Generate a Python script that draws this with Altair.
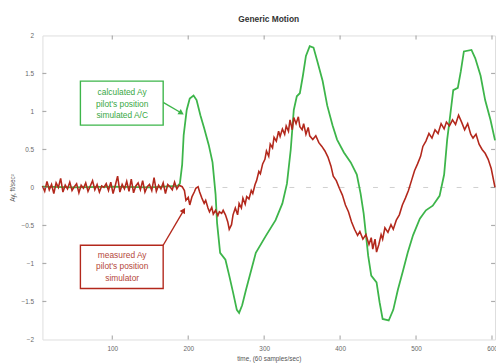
import altair as alt
import pandas as pd

# ---------------- data ----------------
# calculated Ay, pilot's position, simulated A/C (green)
calc_t = [8, 50, 100, 150, 186, 189, 192, 194, 198, 202, 207, 211, 216, 221, 227, 232,
          236, 238, 242, 249, 254, 259, 264, 267, 271, 276, 289, 302, 315, 324, 330,
          335, 339, 343, 347, 351, 355, 360, 365, 370, 377, 383, 390, 396, 405, 414,
          422, 427, 431, 437, 441, 448, 452, 456, 464, 470, 476, 483, 489, 496, 505,
          513, 522, 531, 537, 541, 545, 549, 555, 559, 563, 573, 578, 585, 591, 598, 604]
calc_ay = [0.01, 0.0, 0.01, 0.0, 0.02, 0.05, 0.3, 0.69, 1.02, 1.17, 1.21, 1.15, 0.95,
           0.78, 0.56, 0.33, -0.09, -0.47, -0.86, -0.95, -1.16, -1.38, -1.61, -1.65,
           -1.55, -1.35, -0.86, -0.64, -0.43, -0.21, 0.05, 0.5, 1.02, 1.2, 1.24, 1.47,
           1.73, 1.86, 1.84, 1.66, 1.4, 1.08, 0.82, 0.63, 0.46, 0.33, 0.17, -0.08, -0.34,
           -0.9, -1.16, -1.25, -1.51, -1.73, -1.75, -1.61, -1.35, -1.09, -0.86, -0.63,
           -0.41, -0.3, -0.24, -0.11, 0.17, 0.63, 0.95, 1.28, 1.31, 1.53, 1.79, 1.81,
           1.7, 1.47, 1.15, 0.89, 0.62]

# measured Ay, pilot's position, simulator (red)
noise_t = list(range(8, 191, 3))
noise_ay = [0.02, -0.05, 0.08, -0.03, 0.04, -0.08, 0.06, 0.0, 0.12, -0.06, 0.03, -0.02,
            0.07, -0.04, 0.01, 0.05, -0.07, 0.03, -0.01, 0.06, -0.05, 0.02, 0.09, -0.03,
            0.04, -0.06, 0.02, 0.0, 0.05, -0.04, 0.07, -0.08, 0.03, 0.15, -0.06, 0.04,
            -0.02, 0.08, -0.05, 0.11, -0.07, 0.02, 0.06, -0.03, 0.09, -0.06, 0.01, 0.04,
            -0.04, 0.13, -0.05, 0.03, -0.02, 0.06, -0.08, 0.04, 0.01, -0.03, 0.07, -0.02,
            0.03]
meas_t_rest = [192, 195, 197, 200, 202, 205, 208, 210, 213, 215, 218, 221, 223, 226, 228,
               231, 233, 236, 239, 241, 244, 246, 249, 252, 254, 257, 259, 262, 265, 267,
               270, 272, 275, 277, 280, 283, 285, 288, 290, 293, 295, 298, 301, 303, 306,
               308, 311, 313, 316, 319, 321, 324, 327, 329, 332, 334, 337, 339, 342, 345,
               347, 350, 352, 355, 358, 360, 364, 368, 372, 376, 380, 384, 388, 391, 395,
               399, 403, 407, 411, 415, 419, 423, 426, 430, 434, 438, 441, 443, 446, 448,
               451, 454, 456, 459, 463, 467, 470, 474, 478, 482, 486, 490, 494, 498, 502,
               506, 509, 513, 517, 521, 525, 529, 533, 537, 540, 544, 548, 552, 556, 560,
               564, 568, 572, 575, 579, 583, 587, 591, 595, 599, 604]
meas_ay_rest = [0.01, -0.04, -0.17, -0.13, -0.23, -0.12, -0.06, -0.01, 0.01, -0.06, -0.14,
                -0.21, -0.17, -0.27, -0.32, -0.26, -0.35, -0.3, -0.37, -0.32, -0.34, -0.3,
                -0.36, -0.45, -0.55, -0.49, -0.36, -0.27, -0.36, -0.21, -0.27, -0.14,
                -0.22, -0.12, -0.15, -0.04, -0.08, 0.04, 0.09, 0.21, 0.18, 0.31, 0.37,
                0.48, 0.41, 0.57, 0.52, 0.66, 0.61, 0.74, 0.67, 0.77, 0.7, 0.81, 0.74,
                0.89, 0.76, 0.92, 0.84, 0.93, 0.8, 0.76, 0.84, 0.7, 0.79, 0.68, 0.63,
                0.68, 0.59, 0.54, 0.48, 0.4, 0.28, 0.15, 0.09, -0.01, -0.1, -0.23, -0.32,
                -0.45, -0.55, -0.63, -0.58, -0.68, -0.62, -0.75, -0.66, -0.81, -0.68,
                -0.85, -0.75, -0.62, -0.68, -0.53, -0.59, -0.49, -0.55, -0.43, -0.36,
                -0.23, -0.14, -0.04, 0.09, 0.22, 0.31, 0.41, 0.54, 0.61, 0.71, 0.65, 0.76,
                0.71, 0.84, 0.77, 0.86, 0.81, 0.89, 0.83, 0.95, 0.86, 0.76, 0.84, 0.7,
                0.65, 0.7, 0.57, 0.5, 0.45, 0.37, 0.25, 0.0]
meas_t = noise_t + meas_t_rest
meas_ay = noise_ay + meas_ay_rest

x_ticks = [100, 200, 300, 400, 500, 600]
y_ticks = [-2, -1.5, -1, -0.5, 0, 0.5, 1, 1.5, 2]

# annotations
green_lines = ["calculated Ay", "pilot's position", "simulated A/C"]
red_lines = ["measured Ay", "pilot's position", "simulator"]

GREEN = "#3db54a"
RED = "#b3281c"
GREEN_TXT = "#3aa845"
RED_TXT = "#b4473b"
FRAME = "#8a8a8a"
FONT = "Liberation Sans"

W, H = 460, 309
xs = alt.Scale(domain=[8, 604], nice=False, zero=False)
ys = alt.Scale(domain=[-2, 2], nice=False, zero=False)

x_axis = alt.Axis(values=x_ticks, grid=False, domain=False, ticks=False,
                  labelOverlap=False, labelFlush=False,
                  labelFontSize=6.5, labelColor="#666", labelFont=FONT, labelPadding=6,
                  title="time, (60 samples/sec)", titleFontSize=6.5, titleFont=FONT,
                  titleColor="#555", titleFontWeight="normal", titleBaseline="top",
                  titleY=16)
y_axis = alt.Axis(values=y_ticks, grid=False, domain=False, ticks=False,
                  labelOverlap=False, labelFlush=False, format=".1~f",
                  labelFontSize=6.5, labelColor="#666", labelFont=FONT, labelPadding=9,
                  title="Ay, ft/sec²", titleFontSize=6.5, titleFont=FONT,
                  titleColor="#555", titleFontWeight="normal", titleAngle=270,
                  titleAlign="center", titleBaseline="middle", titleX=-30, titleY=H / 2)


def X(field):
    return alt.X(field, type="quantitative", scale=xs, axis=x_axis)


def Y(field):
    return alt.Y(field, type="quantitative", scale=ys, axis=y_axis)


calc_df = pd.DataFrame({"t": calc_t, "ay": calc_ay})
meas_df = pd.DataFrame({"t": meas_t, "ay": meas_ay})

green = alt.Chart(calc_df).mark_line(color=GREEN, strokeWidth=1.8).encode(
    x=X("t"), y=Y("ay"))
red = alt.Chart(meas_df).mark_line(color=RED, strokeWidth=1.6).encode(
    x=X("t"), y=Y("ay"))

zero = alt.Chart(pd.DataFrame({"v": [0]})).mark_rule(
    color="#cfcfcf", strokeDash=[5, 12], strokeWidth=1).encode(y=Y("v"))

xt = pd.DataFrame({"t": x_ticks})
yt = pd.DataFrame({"v": [v for v in y_ticks if abs(v) < 2]})
tick_style = dict(color=FRAME, size=4, thickness=1.2)
ticks = [
    alt.Chart(xt).mark_tick(orient="vertical", **tick_style).encode(
        x=X("t"), y=alt.value(2)),
    alt.Chart(xt).mark_tick(orient="vertical", **tick_style).encode(
        x=X("t"), y=alt.value(H - 2)),
    alt.Chart(yt).mark_tick(orient="horizontal", **tick_style).encode(
        y=Y("v"), x=alt.value(2)),
    alt.Chart(yt).mark_tick(orient="horizontal", **tick_style).encode(
        y=Y("v"), x=alt.value(W - 2)),
]

boxes = pd.DataFrame({
    "x1": [58, 58], "x2": [167, 167], "y1": [1.40, -0.76], "y2": [0.82, -1.33],
    "c": [GREEN, RED]})
box = alt.Chart(boxes).mark_rect(fill="white", strokeWidth=1.4).encode(
    x=X("x1"), x2="x2:Q", y=Y("y1"), y2="y2:Q",
    stroke=alt.Stroke("c:N", scale=None))

arrows = pd.DataFrame({
    "x1": [167, 167], "y1": [1.12, -0.76], "x2": [191, 194], "y2": [0.98, -0.30],
    "c": [GREEN, RED], "a": [32, 301]})
arrow_line = alt.Chart(arrows).mark_rule(strokeWidth=1.4).encode(
    x=X("x1"), x2="x2:Q", y=Y("y1"), y2="y2:Q",
    color=alt.Color("c:N", scale=None))
arrow_head = alt.Chart(arrows).mark_point(shape="triangle-right", filled=True,
                                          size=40, opacity=1).encode(
    x=X("x2"), y=Y("y2"),
    color=alt.Color("c:N", scale=None), angle=alt.Angle("a:Q", scale=None))

labels = pd.DataFrame({
    "t": [113] * 6,
    "ay": [1.25, 1.10, 0.95, -0.89, -1.04, -1.19],
    "txt": green_lines + red_lines,
    "c": [GREEN_TXT] * 3 + [RED_TXT] * 3})
text = alt.Chart(labels).mark_text(font=FONT, fontSize=8.5, baseline="middle",
                                   align="center").encode(
    x=X("t"), y=Y("ay"), text="txt:N",
    color=alt.Color("c:N", scale=None))

chart = alt.layer(
    zero, green, red, *ticks, arrow_line, arrow_head, box, text
).properties(
    width=W, height=H,
    title=alt.TitleParams("Generic Motion", fontSize=8.5, fontWeight="bold",
                          color="#333", font=FONT, anchor="middle", frame="group",
                          offset=9),
    autosize=alt.AutoSizeParams(type="none"),
    padding={"left": 35, "top": 25, "right": 1, "bottom": 22},
).configure_view(stroke=FRAME, strokeWidth=1.5).configure(background="white")

chart.save("out.html", embed_options={"renderer": "svg", "actions": False})
